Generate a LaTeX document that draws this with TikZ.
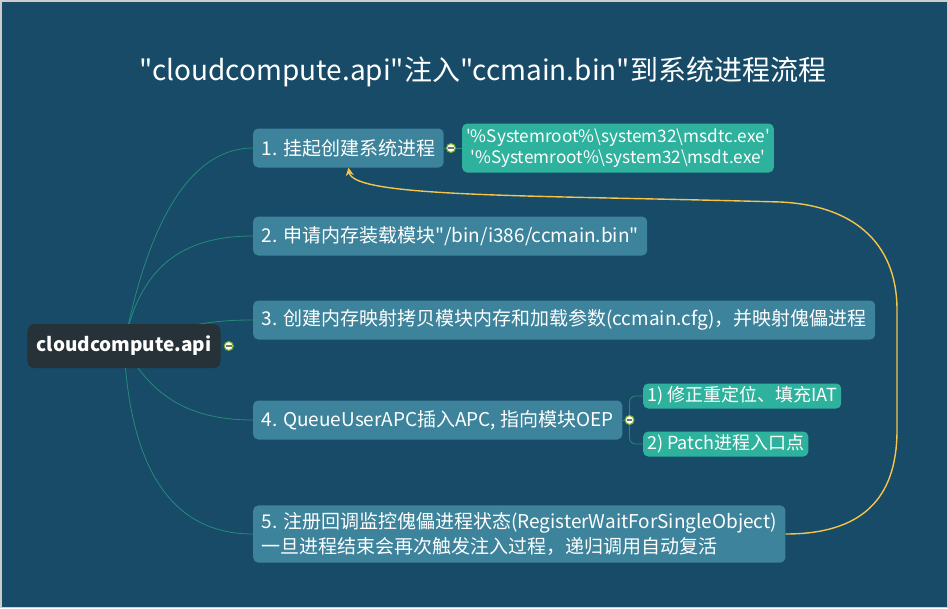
\documentclass[tikz,border=0pt]{standalone}
\usepackage{fontspec}
\setmainfont{Noto Sans CJK SC}[Ligatures=TeXOff]
\usetikzlibrary{arrows.meta, positioning}
\definecolor{deepblue}{RGB}{23,75,104}
\definecolor{topicblue}{RGB}{60,131,155}
\definecolor{subteal}{RGB}{46,178,158}
\definecolor{rootdark}{RGB}{38,50,56}
\definecolor{branchgreen}{RGB}{38,138,122}
\definecolor{loopyellow}{RGB}{245,196,72}
\definecolor{foldgreen}{RGB}{112,172,46}
\definecolor{framegray}{RGB}{205,205,205}
\pgfdeclarelayer{canvas}
\pgfdeclarelayer{branches}
\pgfsetlayers{canvas,branches,main}

\begin{document}
\begin{tikzpicture}[
  x=1pt, y=-1pt,
  topic/.style={rectangle, rounded corners=5pt, fill=topicblue, text=white, anchor=west,
               inner xsep=8.5pt, inner ysep=0pt, minimum height=39pt, font=\fontsize{19}{25}\selectfont},
  subtopic/.style={rectangle, rounded corners=5pt, fill=subteal, text=white, anchor=west,
               inner xsep=4pt, inner ysep=0pt, minimum height=25pt, font=\fontsize{18}{21}\selectfont},
  rootbox/.style={rectangle, rounded corners=7pt, fill=rootdark, text=white, inner xsep=9pt,
               minimum height=44pt, font=\fontsize{19}{23}\selectfont\bfseries},
  fold/.style={circle, draw=foldgreen, fill=yellow!8!white, line width=1.1pt, minimum size=9pt, inner sep=0pt,
               path picture={\draw[black!55, line width=1.2pt] ([xshift=-2.8pt]path picture bounding box.center)
               -- ([xshift=2.8pt]path picture bounding box.center);}},
  branch/.style={line width=0.8pt, color=branchgreen},
  loopback/.style={-{Stealth[length=8pt, width=8pt]}, line width=1.4pt, color=loopyellow}
]

\useasboundingbox (0,0) rectangle (948,608);
\begin{pgfonlayer}{canvas}
\fill[deepblue] (0,0) rectangle (948,608);
\draw[framegray, line width=1.5pt] (0.75,0.75) rectangle (947.25,607.25);
\end{pgfonlayer}

\node[text=white, font=\fontsize{28}{33}\selectfont] (title) at (483,72) {"cloudcompute.api"注入"ccmain.bin"到系统进程流程};

\node[rootbox] (root) at (124,346) {cloudcompute.api};
\node[fold, right=3pt of root] (c0) {};

\node[topic] (t1) at (253,148) {1. 挂起创建系统进程};
\node[fold, right=2pt of t1] (c1) {};
\node[subtopic, right=6pt of c1, minimum height=49pt, align=center, font=\fontsize{17.2}{21}\selectfont] (s1)
  {'\%Systemroot\%\textbackslash system32\textbackslash msdtc.exe'\\'\%Systemroot\%\textbackslash system32\textbackslash msdt.exe'};

\node[topic] (t2) at (253,236) {2. 申请内存装载模块"/bin/i386/ccmain.bin"};
\node[topic] (t3) at (253,320) {3. 创建内存映射拷贝模块内存和加载参数(ccmain.cfg)，并映射傀儡进程};
\node[topic] (t4) at (253,420) {4. QueueUserAPC插入APC, 指向模块OEP};
\node[fold, right=2pt of t4] (c4) {};
\node[subtopic] (s4a) at (643,396) {1) 修正重定位、填充IAT};
\node[subtopic] (s4b) at (643,444) {2) Patch进程入口点};
\node[topic, align=left, inner ysep=7pt] (t5) at (253,534)
  {5. 注册回调监控傀儡进程状态(RegisterWaitForSingleObject)\\一旦进程结束会再次触发注入过程，递归调用自动复活};

\begin{pgfonlayer}{branches}
\draw[branch] (root.center) .. controls +(25,-130) and +(-60,0) .. (t1.west);
\draw[branch] (root.center) .. controls +(15,-80) and +(-70,0) .. (t2.west);
\draw[branch] (root.center) .. controls +(60,-22) and +(-40,0) .. (t3.west);
\draw[branch] (root.center) .. controls +(25,45) and +(-70,0) .. (t4.west);
\draw[branch] (root.center) .. controls +(6,125) and +(-80,0) .. (t5.west);
\draw[branch] (t1.east) -- (s1.west);
\draw[branch] (t4.east) -- (c4.center);
\draw[branch, rounded corners=6pt] (c4.center) |- (s4a.west);
\draw[branch, rounded corners=6pt] (c4.center) |- (s4b.west);
\end{pgfonlayer}

\coordinate (bendlo) at (897,430);
\coordinate (bendhi) at (897,310);
\coordinate (topmid) at (780,202);
\draw[loopback] (t5.east) .. controls +(75,0) and +(0,70) .. (bendlo) -- (bendhi)
  .. controls +(0,-70) and +(70,3) .. (topmid)
  .. controls +(-250,-7) and +(5,30) .. (t1.south);

\end{tikzpicture}
\end{document}
